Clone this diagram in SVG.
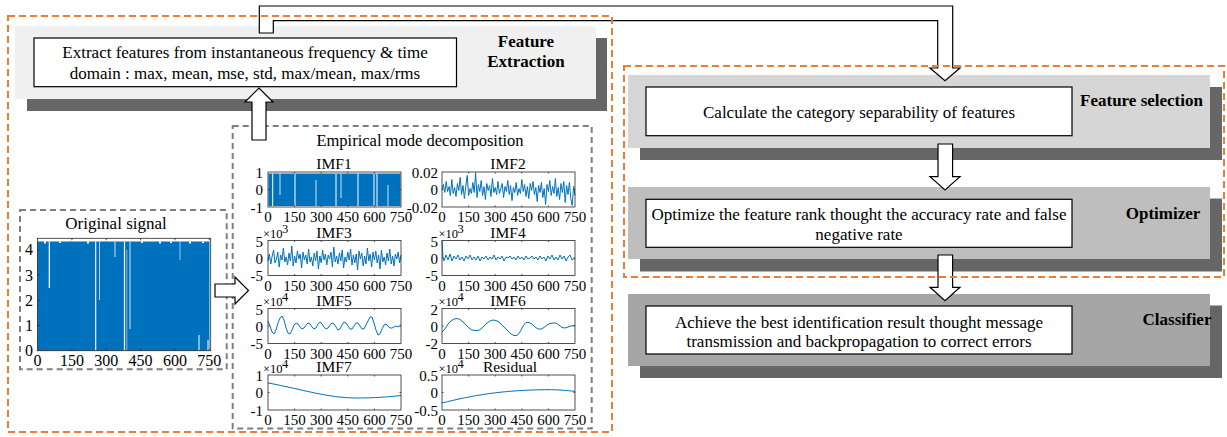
<svg xmlns="http://www.w3.org/2000/svg" xmlns:xlink="http://www.w3.org/1999/xlink" width="1227" height="437" viewBox="0 0 1227 437">
<style>
.t{font-family:"Liberation Serif","Times New Roman",serif;fill:#000}
.body{font-size:17px;text-anchor:middle}
.lbl{font-size:17px;font-weight:bold;text-anchor:middle}
.tk{font-size:15px}
.tko{font-size:16px}
.tx{text-anchor:middle}
.ty{text-anchor:end}
.ttl{font-size:15.5px;text-anchor:middle}
.sup{font-size:12.5px}
.shadow{fill:#666}
.wbox{fill:#fff;stroke:#000;stroke-width:1.2}
.orange{fill:none;stroke:#ED7D31;stroke-width:2;stroke-dasharray:7 4}
.gray{fill:none;stroke:#7f7f7f;stroke-width:2;stroke-dasharray:6 4}
.sig{fill:none;stroke:#0072BD;stroke-width:1;stroke-linejoin:round}
.arrow{fill:#fff;stroke:#000;stroke-width:1.2;stroke-linejoin:miter}
.gap{stroke:#fff;fill:none}
.axl{fill:none;stroke:#262626;stroke-width:0.8}
</style>
<defs>
<g id="ax"><rect class="axl" x="0" y="0" width="133" height="35"/><path class="axl" d="M26.6,35v-1.5M53.2,35v-1.5M79.8,35v-1.5M106.4,35v-1.5M26.6,0v1.5M53.2,0v1.5M79.8,0v1.5M106.4,0v1.5M0,17.5h1.5M133,17.5h-1.5"/></g>
</defs>

<g id="feature-extraction">
<rect class="shadow" x="27" y="38" width="580" height="73"/>
<rect x="15" y="26" width="581" height="73" fill="#F0F0F0"/>
<rect class="wbox" x="34" y="38" width="422.5" height="48.7"/>
<text class="t body" x="245" y="58">Extract features from instantaneous frequency &amp; time</text>
<text class="t body" x="245" y="78.5">domain : max, mean, mse, std, max/mean, max/rms</text>
<text class="t lbl" x="526" y="46.5">Feature</text>
<text class="t lbl" x="526" y="66.5">Extraction</text>
</g>

<g id="feature-selection">
<rect class="shadow" x="640" y="87" width="582" height="73"/>
<rect x="628" y="75" width="582" height="73" fill="#D6D6D6"/>
<rect class="wbox" x="646" y="87" width="426" height="48.7"/>
<text class="t body" x="859" y="117.5">Calculate the category separability of features</text>
<text class="t lbl" x="1141.5" y="106">Feature selection</text>
</g>

<g id="optimizer">
<rect class="shadow" x="640" y="198.5" width="582" height="73"/>
<rect x="628" y="187" width="582" height="72" fill="#BEBEBE"/>
<rect class="wbox" x="646" y="199.3" width="426" height="48"/>
<text class="t body" x="859" y="220">Optimize the feature rank thought the accuracy rate and false</text>
<text class="t body" x="859" y="239.5">negative rate</text>
<text class="t lbl" x="1163" y="219">Optimizer</text>
</g>

<g id="classifier">
<rect class="shadow" x="640" y="305.5" width="582" height="72.5"/>
<rect x="628" y="294" width="582" height="72" fill="#A6A6A6"/>
<rect class="wbox" x="646" y="306" width="426" height="48"/>
<text class="t body" x="859" y="327.5">Achieve the best identification result thought message</text>
<text class="t body" x="859" y="347">transmission and backpropagation to correct errors</text>
<text class="t lbl" x="1177" y="325">Classifier</text>
</g>

<g id="original-signal">
<rect class="gray" x="20" y="210" width="206.7" height="159.3"/>
<text class="t" x="116" y="229" font-size="17" text-anchor="middle">Original signal</text>
<rect x="37.5" y="241.5" width="172" height="109.2" fill="#0072BD"/>
<g class="gap">
<path stroke-width="1.2" d="M49.3,241.5V288"/>
<path stroke-width="1.1" d="M95.7,241.5V350.7"/>
<path stroke-width="0.7" d="M99.5,241.5V300"/>
<path stroke-width="0.8" d="M115,241.5V257"/>
<path stroke-width="1.2" d="M124.5,241.5V350.7"/>
<path stroke-width="0.5" d="M126.8,250V350.7"/>
<path stroke-width="0.8" d="M130,241.5V329"/>
<path stroke-width="0.6" d="M180,241.5V260"/>
<path stroke-width="1" d="M199,335V350.7"/>
<path stroke-width="1" d="M208,340V350.7"/>
<path stroke-width="2" d="M45,241.5v2M60,241.5v1.5M88,241.5v2M142,241.5v1.5M160,241.5v2M171,241.5v1.5M190,241.5v2M203,241.5v1.5"/>
</g>
<rect class="axl" x="37.5" y="238.3" width="173.2" height="112.4"/>
<path class="axl" d="M71.9,350.7v-2M106.2,350.7v-2M140.6,350.7v-2M174.9,350.7v-2M209.3,350.7v-2M71.9,238.3v2M106.2,238.3v2M140.6,238.3v2M174.9,238.3v2M209.3,238.3v2M37.5,325.5h2M37.5,300.3h2M37.5,275.1h2M37.5,249.9h2"/>
<g class="t tko ty">
<text x="33" y="356.2">0</text><text x="33" y="331">1</text><text x="33" y="305.8">2</text><text x="33" y="280.6">3</text><text x="33" y="255.4">4</text>
</g>
<g class="t tko tx">
<text x="37.5" y="366">0</text><text x="71.9" y="366">150</text><text x="106.2" y="366">300</text><text x="140.6" y="366">450</text><text x="174.9" y="366">600</text><text x="209.3" y="366">750</text>
</g>
</g>

<g id="emd">
<rect class="gray" x="232.7" y="126" width="359" height="302.5"/>
<text class="t" x="420" y="146" font-size="16.5" text-anchor="middle">Empirical mode decomposition</text>

<!-- IMF1 -->
<rect x="268.5" y="173.5" width="132" height="32.5" fill="#0072BD"/>
<g class="gap">
<path stroke-width="1" d="M272.7,173.5V206M295,173.5V206M336,173.5V206M358,173.5V206M374,173.5V206M377,173.5V206"/>
<path stroke-width="0.8" d="M280,173.5V195M316,180V206M341,173.5V198M388,185V206"/>
</g>
<use xlink:href="#ax" x="268" y="172"/>
<text class="t ttl" x="334" y="169">IMF1</text>
<g class="t tk ty"><text x="263" y="177.5">1</text><text x="263" y="195">0</text><text x="263" y="212.5">-1</text></g>

<!-- IMF2 -->
<polyline class="sig" vector-effect="non-scaling-stroke" transform="translate(442,189.5) scale(1.4,1)" points="0,0 1,-5 2,3 3,-8 4,2 5,-3 6,6 7,-10 8,4 9,-2 10,7 11,-6 12,1 13,-12 14,5 15,-4 16,9 17,-3 18,-14 19,6 20,-1 21,4 22,-7 23,3 24,-17 25,8 26,-5 27,2 28,-9 29,6 30,-3 31,10 32,-6 33,1 34,-4 35,7 36,-11 37,3 38,-2 39,5 40,-8 41,4 42,-1 43,-6 44,8 45,-3 46,2 47,-9 48,5 49,-4 50,11 51,-2 52,3 53,-7 54,6 55,-1 56,4 57,-10 58,2 59,-5 60,7 61,-3 62,9 63,-6 64,1 65,-8 66,5 67,-2 68,12 69,-4 70,3 71,-7 72,8 73,-1 74,15 75,-5 76,2 77,-9 78,6 79,-3 80,4 81,-11 82,7 83,-2 84,10 85,-6 86,3 87,-8 88,13 89,-4 90,5 91,-7 92,9 93,16 94,-3 95,6"/>
<use xlink:href="#ax" x="442" y="172"/>
<text class="t ttl" x="508" y="169">IMF2</text>
<g class="t tk ty"><text x="438" y="177.5">0.02</text><text x="438" y="195">0</text><text x="438" y="212.5">-0.02</text></g>

<!-- IMF3 -->
<polyline class="sig" vector-effect="non-scaling-stroke" transform="translate(268,258) scale(1.4,1)" points="0,3 1,-4 2,6 3,-2 4,-8 5,5 6,1 7,-6 8,9 9,-3 10,2 11,-10 12,4 13,-1 14,7 15,-5 16,3 17,-12 18,8 19,-2 20,5 21,-7 22,1 23,-4 24,10 25,-6 26,2 27,-3 28,6 29,-9 30,4 31,-1 32,8 33,-5 34,3 35,-7 36,11 37,-2 38,5 39,-8 40,2 41,-4 42,7 43,-3 44,1 45,-6 46,9 47,-11 48,4 49,-2 50,6 51,-5 52,3 53,-8 54,10 55,-1 56,4 57,-6 58,2 59,-9 60,7 61,-3 62,5 63,-4 64,12 65,-7 66,1 67,-5 68,8 69,-2 70,6 71,-10 72,3 73,-4 74,9 75,-6 76,2 77,-7 78,5 79,-3 80,11 81,-8 82,4 83,-1 84,7 85,-5 86,3 87,-9 88,6 89,-2 90,8 91,-4 92,1 93,-6 94,5 95,-3"/>
<use xlink:href="#ax" x="268" y="240.5"/>
<text class="t ttl" x="334" y="237.5">IMF3</text>
<text class="t sup" x="263" y="237.5">×10</text><text class="t sup" x="282" y="232.5">3</text>
<g class="t tk ty"><text x="263" y="246.5">5</text><text x="263" y="263.5">0</text><text x="263" y="281">-5</text></g>

<!-- IMF4 -->
<polyline class="sig" transform="translate(442,258)" points="0,-17 1,0 2,3 4,-3 6,2 8,-4 10,3 12,-2 14,1 16,-3 18,2 20,-1 22,3 24,-2 26,1 28,-3 30,2 32,-1 34,2 36,-2 38,3 40,-1 42,1 44,-2 46,2 48,-1 50,1 52,-3 54,2 56,-1 58,1 60,-2 62,3 64,-1 66,0 68,-2 70,1 72,-1 74,2 76,-2 78,1 80,-1 82,2 84,-2 86,1 88,0 90,-2 92,1 94,-1 96,2 98,-2 100,1 102,-1 104,3 106,-2 108,1 110,-3 112,2 114,-1 116,2 118,-3 120,1 122,-2 124,3 126,-1 128,-3 130,2 133,0"/>
<use xlink:href="#ax" x="442" y="240.5"/>
<text class="t ttl" x="508" y="237.5">IMF4</text>
<text class="t sup" x="438.5" y="237.5">×10</text><text class="t sup" x="457.5" y="232.5">3</text>
<g class="t tk ty"><text x="438" y="246.5">5</text><text x="438" y="263.5">0</text><text x="438" y="281">-5</text></g>

<!-- IMF5 -->
<polyline class="sig" transform="translate(268,326)" points="0,-5 2,0 4,6 6,8 8,4 10,-3 12,-8 14,-10 16,-6 18,2 20,7 22,8 24,4 26,-1 28,-3 30,-2 32,1 34,3 36,2 38,-1 40,-3 42,-2 44,1 46,3 48,2 50,-2 52,-4 54,-2 56,1 58,3 60,2 62,-1 64,-3 66,-2 68,1 70,4 72,3 74,-1 76,-4 78,-3 80,0 82,3 84,3 86,0 88,-3 90,-3 92,0 94,3 96,3 98,-1 100,-5 102,-9 104,-9 106,-3 108,4 110,9 112,8 114,3 116,-1 118,-2 120,0 122,2 124,2 126,1 128,0 130,1 133,-1"/>
<use xlink:href="#ax" x="268" y="308.5"/>
<text class="t ttl" x="334" y="305.5">IMF5</text>
<text class="t sup" x="263" y="305.5">×10</text><text class="t sup" x="282" y="300.5">4</text>
<g class="t tk ty"><text x="263" y="314.5">5</text><text x="263" y="331.5">0</text><text x="263" y="349">-5</text></g>

<!-- IMF6 -->
<polyline class="sig" transform="translate(442,326)" points="0,6 3,3 6,-2 9,-5 12,-7 15,-7.5 18,-6.5 21,-4 24,-1 27,2 30,4 33,4.5 36,4.5 39,3 42,0 45,-3 48,-5 51,-6 54,-5.5 57,-4 60,-1 63,2 66,5 69,8 72,9.5 75,9.5 78,6 81,0 84,-3.5 87,-3.5 90,-2 93,1 96,3 99,3 102,1.5 105,-1 108,-2.5 111,-3 114,-3 117,-1 120,1.5 123,2 126,1 129,0 133,-0.5"/>
<use xlink:href="#ax" x="442" y="308.5"/>
<text class="t ttl" x="508" y="305.5">IMF6</text>
<text class="t sup" x="438.5" y="305.5">×10</text><text class="t sup" x="457.5" y="300.5">4</text>
<g class="t tk ty"><text x="438" y="314.5">2</text><text x="438" y="331.5">0</text><text x="438" y="349">-2</text></g>

<!-- IMF7 -->
<path class="sig" transform="translate(268,392.5)" d="M0,-9.6 C35,-3 60,5.5 88,5.5 C105,5.5 120,4.5 133,3"/>
<use xlink:href="#ax" x="268" y="375"/>
<text class="t ttl" x="334" y="372">IMF7</text>
<text class="t sup" x="263" y="372.5">×10</text><text class="t sup" x="282" y="367.5">4</text>
<g class="t tk ty"><text x="263" y="381">1</text><text x="263" y="398">0</text><text x="263" y="415.5">-1</text></g>

<!-- Residual -->
<path class="sig" transform="translate(442,392.5)" d="M0,10.5 C30,3 60,-2.5 105,-2.8 C118,-2.8 126,-2 133,-1"/>
<use xlink:href="#ax" x="442" y="375"/>
<text class="t ttl" x="510" y="372">Residual</text>
<text class="t sup" x="438.5" y="372.5">×10</text><text class="t sup" x="457.5" y="367.5">4</text>
<g class="t tk ty"><text x="438" y="381">0.5</text><text x="438" y="398">0</text><text x="438" y="415.5">-0.5</text></g>

<!-- x tick labels -->
<g class="t tk tx">
<text x="268" y="222">0</text><text x="294.6" y="222">150</text><text x="321.2" y="222">300</text><text x="347.8" y="222">450</text><text x="374.4" y="222">600</text><text x="401" y="222">750</text>
<text x="442" y="222">0</text><text x="468.6" y="222">150</text><text x="495.2" y="222">300</text><text x="521.8" y="222">450</text><text x="548.4" y="222">600</text><text x="575" y="222">750</text>
<text x="268" y="290.5">0</text><text x="294.6" y="290.5">150</text><text x="321.2" y="290.5">300</text><text x="347.8" y="290.5">450</text><text x="374.4" y="290.5">600</text><text x="401" y="290.5">750</text>
<text x="442" y="290.5">0</text><text x="468.6" y="290.5">150</text><text x="495.2" y="290.5">300</text><text x="521.8" y="290.5">450</text><text x="548.4" y="290.5">600</text><text x="575" y="290.5">750</text>
<text x="268" y="358.5">0</text><text x="294.6" y="358.5">150</text><text x="321.2" y="358.5">300</text><text x="347.8" y="358.5">450</text><text x="374.4" y="358.5">600</text><text x="401" y="358.5">750</text>
<text x="442" y="358.5">0</text><text x="468.6" y="358.5">150</text><text x="495.2" y="358.5">300</text><text x="521.8" y="358.5">450</text><text x="548.4" y="358.5">600</text><text x="575" y="358.5">750</text>
<text x="268" y="425">0</text><text x="294.6" y="425">150</text><text x="321.2" y="425">300</text><text x="347.8" y="425">450</text><text x="374.4" y="425">600</text><text x="401" y="425">750</text>
<text x="442" y="425">0</text><text x="468.6" y="425">150</text><text x="495.2" y="425">300</text><text x="521.8" y="425">450</text><text x="548.4" y="425">600</text><text x="575" y="425">750</text>
</g>
</g>

<g id="connectors">
<path class="arrow" d="M215,284H235V277L248.5,290.5L235,304V297H215Z"/>
<path class="arrow" d="M252,140V102H245L259,88L273,102H266V140Z"/>
<path class="arrow" d="M259.3,33V6H952.7V68H960L945,80.7L930,68H937.7V20.7H273.3V33Z"/>
<path class="arrow" d="M938,144V176.7H930L945,190L960,176.7H952.6V144Z"/>
<path class="arrow" d="M938,255V287.3H930L945,300.7L960,287.3H952.6V255Z"/>
</g>

<g id="stage-groups">
<rect class="orange" x="8" y="16" width="604" height="416"/>
<rect class="orange" x="624" y="66" width="600" height="211"/>
</g>
</svg>
